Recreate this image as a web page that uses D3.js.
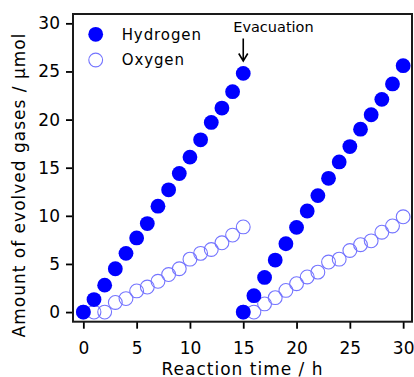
<!DOCTYPE html>
<html>
<head>
<meta charset="utf-8">
<script src="https://cdn.jsdelivr.net/npm/d3@7"></script>
<style>
  body { margin: 0; background: #fff; }
  text { font-family: "DejaVu Sans", Verdana, sans-serif; fill: #000; }
</style>
</head>
<body>
<svg id="chart" width="414" height="377"></svg>
<script>
// reaction runs, before and after evacuation at 15 h
var hoursRun1 = [0, 1, 2, 3, 4, 5, 6, 7, 8, 9, 10, 11, 12, 13, 14, 15];
var hoursRun2 = [15, 16, 17, 18, 19, 20, 21, 22, 23, 24, 25, 26, 27, 28, 29, 30];
var hydrogenRun1 = [0, 1.3, 2.8, 4.5, 6.1, 7.7, 9.2, 11.0, 12.7, 14.4, 16.1, 17.9, 19.7, 21.2, 22.9, 24.8];
var oxygenRun1 = [0, 0, 0, 1.0, 1.4, 2.2, 2.6, 3.2, 3.9, 4.5, 5.5, 6.1, 6.5, 7.2, 8.0, 8.85];
var hydrogenRun2 = [0, 1.7, 3.6, 5.4, 7.1, 8.8, 10.5, 12.1, 13.9, 15.6, 17.2, 19.0, 20.5, 22.1, 23.7, 25.6];
var oxygenRun2 = [0, 0, 0.85, 1.5, 2.25, 2.95, 3.65, 4.15, 5.2, 5.5, 6.4, 7.0, 7.4, 8.3, 8.95, 9.9];
var xTicks = [0, 5, 10, 15, 20, 25, 30];
var yTicks = [0, 5, 10, 15, 20, 25, 30];
var legendNames = ['Hydrogen', 'Oxygen'];
var evacuationTime = 15;

(function () {
	var svg = d3.select('#chart'),
		pl = 73, pr = 412, pt = 14, pb = 321.7,
		r = 7.4,
		blue = '#0000ff',
		paleBlue = '#7474ff';

	var x = d3.scaleLinear().domain([-0.97, 30.83]).range([pl, pr]);
	var y = d3.scaleLinear().domain([-1.0, 30.97]).range([pb, pt]);

	function pairs(xs, ys) {
		return xs.map(function (d, i) { return [d, ys[i]]; });
	}

	// axes
	var xAxis = svg.append('g')
		.attr('transform', 'translate(0,' + pb + ')')
		.call(d3.axisBottom(x).tickValues(xTicks).tickSize(7).tickSizeOuter(0).tickPadding(9));
	var yAxis = svg.append('g')
		.attr('transform', 'translate(' + pl + ',0)')
		.call(d3.axisLeft(y).tickValues(yTicks).tickSize(7).tickSizeOuter(0).tickPadding(6));
	[xAxis, yAxis].forEach(function (g) {
		g.select('.domain').remove();
		g.selectAll('.tick line').attr('stroke', '#000').attr('stroke-width', 1.8);
		g.selectAll('.tick text').style('font-size', '17px').attr('fill', '#000');
	});
	xAxis.selectAll('.tick text').attr('dy', '0.95em');

	// frame
	svg.append('rect')
		.attr('x', pl).attr('y', pt)
		.attr('width', pr - pl).attr('height', pb - pt)
		.attr('fill', 'none').attr('stroke', '#1a1a1a').attr('stroke-width', 2);

	// markers: open oxygen circles under the filled hydrogen ones
	var marks = svg.append('g');
	[pairs(hoursRun1, oxygenRun1), pairs(hoursRun2, oxygenRun2)].forEach(function (run) {
		marks.append('g').selectAll('circle').data(run).enter().append('circle')
			.attr('cx', function (d) { return x(d[0]); })
			.attr('cy', function (d) { return y(d[1]); })
			.attr('r', r - 0.5)
			.attr('fill', 'none')
			.attr('stroke', paleBlue)
			.attr('stroke-width', 1.1);
	});
	[pairs(hoursRun1, hydrogenRun1), pairs(hoursRun2, hydrogenRun2)].forEach(function (run) {
		marks.append('g').selectAll('circle').data(run).enter().append('circle')
			.attr('cx', function (d) { return x(d[0]); })
			.attr('cy', function (d) { return y(d[1]); })
			.attr('r', r)
			.attr('fill', blue);
	});

	// legend
	var legend = svg.append('g');
	legendNames.forEach(function (name, i) {
		var cy = 34.3 + i * 25.7;
		var c = legend.append('circle').attr('cx', 95.7).attr('cy', cy).attr('r', r);
		if (i == 0) {
			c.attr('fill', blue);
		} else {
			c.attr('r', r - 0.5).attr('fill', 'none').attr('stroke', paleBlue).attr('stroke-width', 1.1);
		}
		legend.append('text')
			.attr('x', 121.7).attr('y', cy + 5.2)
			.style('font-size', '15px')
			.style('letter-spacing', '0.9px')
			.text(name);
	});

	// evacuation marker
	var ax = x(evacuationTime);
	svg.append('text')
		.attr('x', ax - 10).attr('y', 32.3)
		.style('font-size', '14.5px')
		.text('Evacuation');
	svg.append('path')
		.attr('d', 'M' + ax + ',38.5V61 M' + (ax - 4.5) + ',53.5L' + ax + ',61L' + (ax + 4.5) + ',53.5')
		.attr('fill', 'none').attr('stroke', '#000').attr('stroke-width', 1.6);

	// axis titles
	svg.append('text')
		.attr('x', (pl + pr) / 2).attr('y', 374.5)
		.attr('text-anchor', 'middle')
		.style('font-size', '17px')
		.style('letter-spacing', '1px')
		.text('Reaction time / h');
	svg.append('text')
		.attr('transform', 'translate(25,185) rotate(-90)')
		.attr('text-anchor', 'middle')
		.style('font-size', '17px')
		.style('letter-spacing', '1px')
		.text('Amount of evolved gases / μmol');
})();
</script>
</body>
</html>
